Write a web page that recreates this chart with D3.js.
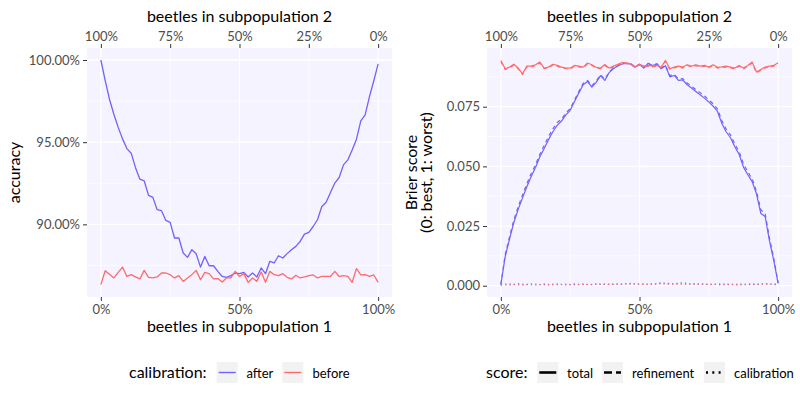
<!DOCTYPE html>
<html><head><meta charset="utf-8">
<script src="https://cdn.jsdelivr.net/npm/d3@7"></script>
<style>
body{margin:0;background:#fff}
text{font-family:Lato,"Open Sans",sans-serif}
</style>
</head><body>
<svg id="chart" width="800" height="400"></svg>
<script>
// ---------- data ----------
const nPoints = 65; // share of beetles in subpopulation 1, evenly spaced 0..1
const share1 = d3.range(nPoints).map(i => i / (nPoints - 1));

const accuracyAfter = [100.00, 98.75, 97.60, 96.70, 95.90, 95.20, 94.61, 94.33, 93.45, 92.75,
  92.65, 91.76, 91.64, 90.89, 90.83, 90.24, 90.12, 89.17, 89.17, 88.26,
  87.99, 88.46, 88.21, 87.40, 88.05, 87.48, 87.48, 87.14, 86.83, 86.77,
  86.88, 87.04, 87.00, 87.08, 86.80, 87.04, 86.80, 87.35, 87.00, 87.75,
  87.65, 88.09, 87.95, 88.22, 88.46, 88.66, 88.96, 89.41, 89.51, 89.87,
  90.28, 91.09, 91.35, 91.94, 92.51, 92.85, 93.62, 93.92, 94.53, 95.18,
  96.29, 96.66, 97.77, 98.74, 99.76];

const accuracyBefore = [86.33, 87.18, 86.96, 86.74, 87.08, 87.40, 86.83, 86.94, 86.80, 86.68,
  87.20, 86.77, 86.74, 86.80, 87.04, 87.04, 86.94, 86.74, 86.88, 86.53,
  86.74, 86.94, 87.20, 86.63, 87.08, 87.00, 86.68, 86.70, 86.49, 86.74,
  86.74, 87.14, 86.83, 87.00, 86.47, 86.74, 86.53, 87.10, 86.47, 87.14,
  86.94, 86.88, 87.00, 86.78, 86.68, 86.90, 86.74, 86.80, 86.88, 86.92,
  86.74, 86.83, 86.83, 86.83, 87.14, 86.83, 86.88, 86.83, 86.47, 87.31,
  86.92, 86.94, 86.83, 86.92, 86.47];

const brierTotalAfter = [0.0005, 0.0122, 0.0195, 0.0265, 0.0320, 0.0368, 0.0415, 0.0458, 0.0495, 0.0540,
  0.0575, 0.0612, 0.0645, 0.0672, 0.0690, 0.0716, 0.0735, 0.0772, 0.0808, 0.0842,
  0.0856, 0.0832, 0.0852, 0.0880, 0.0860, 0.0893, 0.0910, 0.0921, 0.0929, 0.0931,
  0.0928, 0.0916, 0.0927, 0.0912, 0.0932, 0.0922, 0.0929, 0.0909, 0.0922, 0.0875,
  0.0881, 0.0860, 0.0862, 0.0842, 0.0828, 0.0814, 0.0800, 0.0786, 0.0770, 0.0752,
  0.0730, 0.0680, 0.0645, 0.0620, 0.0582, 0.0550, 0.0497, 0.0465, 0.0436, 0.0385,
  0.0303, 0.0290, 0.0188, 0.0105, 0.0010];

const brierRefinementAfter = [0.0005, 0.0130, 0.0205, 0.0276, 0.0331, 0.0380, 0.0427, 0.0470, 0.0507, 0.0551,
  0.0588, 0.0625, 0.0657, 0.0684, 0.0698, 0.0724, 0.0742, 0.0778, 0.0814, 0.0848,
  0.0860, 0.0838, 0.0857, 0.0884, 0.0865, 0.0896, 0.0912, 0.0922, 0.0930, 0.0932,
  0.0929, 0.0918, 0.0928, 0.0914, 0.0932, 0.0923, 0.0930, 0.0911, 0.0923, 0.0880,
  0.0886, 0.0866, 0.0868, 0.0849, 0.0836, 0.0822, 0.0809, 0.0795, 0.0779, 0.0762,
  0.0741, 0.0692, 0.0656, 0.0632, 0.0594, 0.0562, 0.0510, 0.0477, 0.0448, 0.0396,
  0.0318, 0.0302, 0.0199, 0.0114, 0.0012];

const brierCalibrationAfter = [0.0002, 0.0004, 0.0003, 0.0005, 0.0004, 0.0003, 0.0005, 0.0004, 0.0003, 0.0004,
  0.0005, 0.0003, 0.0004, 0.0004, 0.0005, 0.0003, 0.0004, 0.0005, 0.0004, 0.0006,
  0.0005, 0.0004, 0.0006, 0.0005, 0.0007, 0.0006, 0.0005, 0.0007, 0.0006, 0.0008,
  0.0010, 0.0007, 0.0006, 0.0008, 0.0005, 0.0007, 0.0009, 0.0012, 0.0010, 0.0009,
  0.0007, 0.0010, 0.0012, 0.0009, 0.0006, 0.0008, 0.0005, 0.0007, 0.0004, 0.0006,
  0.0005, 0.0003, 0.0006, 0.0004, 0.0005, 0.0003, 0.0005, 0.0004, 0.0006, 0.0004,
  0.0007, 0.0009, 0.0007, 0.0005, 0.0003];

const brierTotalBefore = [0.0944, 0.0909, 0.0916, 0.0928, 0.0912, 0.0888, 0.0920, 0.0920, 0.0926, 0.0937,
  0.0912, 0.0916, 0.0928, 0.0923, 0.0916, 0.0912, 0.0912, 0.0923, 0.0920, 0.0916,
  0.0933, 0.0926, 0.0915, 0.0912, 0.0927, 0.0912, 0.0920, 0.0928, 0.0935, 0.0934,
  0.0930, 0.0917, 0.0928, 0.0920, 0.0923, 0.0920, 0.0923, 0.0916, 0.0944, 0.0909,
  0.0916, 0.0920, 0.0916, 0.0926, 0.0920, 0.0926, 0.0920, 0.0923, 0.0916, 0.0926,
  0.0915, 0.0917, 0.0920, 0.0916, 0.0912, 0.0923, 0.0912, 0.0923, 0.0937, 0.0895,
  0.0906, 0.0916, 0.0920, 0.0923, 0.0934];

const brierRefinementBefore = [0.0940, 0.0906, 0.0913, 0.0924, 0.0909, 0.0885, 0.0917, 0.0916, 0.0923, 0.0933,
  0.0909, 0.0913, 0.0924, 0.0920, 0.0913, 0.0909, 0.0908, 0.0920, 0.0917, 0.0913,
  0.0929, 0.0923, 0.0912, 0.0909, 0.0923, 0.0909, 0.0917, 0.0925, 0.0931, 0.0931,
  0.0926, 0.0914, 0.0925, 0.0917, 0.0919, 0.0917, 0.0920, 0.0913, 0.0940, 0.0906,
  0.0913, 0.0917, 0.0912, 0.0923, 0.0917, 0.0922, 0.0917, 0.0920, 0.0913, 0.0922,
  0.0912, 0.0914, 0.0916, 0.0913, 0.0909, 0.0920, 0.0908, 0.0920, 0.0933, 0.0892,
  0.0903, 0.0913, 0.0917, 0.0920, 0.0930];

const brierCalibrationBefore = [0.0009, 0.0007, 0.0008, 0.0006, 0.0009, 0.0007, 0.0006, 0.0008, 0.0007, 0.0005,
  0.0008, 0.0006, 0.0007, 0.0008, 0.0006, 0.0007, 0.0005, 0.0008, 0.0006, 0.0007,
  0.0005, 0.0006, 0.0008, 0.0007, 0.0005, 0.0006, 0.0008, 0.0006, 0.0007, 0.0009,
  0.0006, 0.0008, 0.0007, 0.0005, 0.0007, 0.0008, 0.0006, 0.0009, 0.0007, 0.0006,
  0.0008, 0.0006, 0.0007, 0.0005, 0.0008, 0.0006, 0.0007, 0.0008, 0.0006, 0.0005,
  0.0007, 0.0008, 0.0006, 0.0007, 0.0005, 0.0008, 0.0006, 0.0007, 0.0009, 0.0006,
  0.0008, 0.0007, 0.0006, 0.0008, 0.0007];

const calibrationLevels = ["after", "before"];
const scoreLevels = ["total", "refinement", "calibration"];
const xTicksBottom = [0, 0.5, 1];
const xTicksTop = [0, 0.25, 0.5, 0.75, 1];
const accuracyTicks = [90, 95, 100];
const accuracyMinor = [87.5, 92.5, 97.5];
const brierTicks = [0, 0.025, 0.05, 0.075];
const brierMinor = [0.0125, 0.0375, 0.0625, 0.0875];

// ---------- styling ----------
const colors = {after: "#7062FF", before: "#FF6B6B"};
const dash = {total: null, refinement: "4,3.5", calibration: "1.3,3"};
const keyDash = {total: null, refinement: "8,4", calibration: "2,4.3"};
const bg = "#F5F3FF";
const tickCol = "#333333", labCol = "#4D4D4D";
const titleSize = "16px";

const svg = d3.select("#chart");

function panel(x0, x1, y0, y1, yDomain, yTicks, yMinor, yFmt) {
  const g = svg.append("g");
  const x = d3.scaleLinear().domain([-0.05, 1.05]).range([x0, x1]);
  const y = d3.scaleLinear().domain(yDomain).range([y1, y0]);
  g.append("rect").attr("x", x0).attr("y", y0).attr("width", x1 - x0).attr("height", y1 - y0).attr("fill", bg);
  // minor grid
  yMinor.forEach(v => g.append("line").attr("x1", x0).attr("x2", x1).attr("y1", y(v)).attr("y2", y(v)).attr("stroke", "#fff").attr("stroke-width", 0.7));
  [0.25, 0.75].forEach(v => g.append("line").attr("y1", y0).attr("y2", y1).attr("x1", x(v)).attr("x2", x(v)).attr("stroke", "#fff").attr("stroke-width", 0.7));
  // major grid
  yTicks.forEach(v => g.append("line").attr("x1", x0).attr("x2", x1).attr("y1", y(v)).attr("y2", y(v)).attr("stroke", "#fff").attr("stroke-width", 1.3));
  xTicksBottom.forEach(v => g.append("line").attr("y1", y0).attr("y2", y1).attr("x1", x(v)).attr("x2", x(v)).attr("stroke", "#fff").attr("stroke-width", 1.3));

  const style = sel => {
    sel.select(".domain").remove();
    sel.selectAll(".tick line").attr("stroke", tickCol).attr("stroke-width", 1);
    sel.selectAll(".tick text").attr("fill", labCol).style("font-size", "13px").style("font-family", "Lato");
  };
  g.append("g").attr("transform", `translate(0,${y1})`)
    .call(d3.axisBottom(x).tickValues(xTicksBottom).tickFormat(d3.format(".0%")).tickSize(4).tickPadding(3.5)).call(style);
  g.append("g").attr("transform", `translate(0,${y0})`)
    .call(d3.axisTop(x).tickValues(xTicksTop).tickFormat(d => d3.format(".0%")(1 - d)).tickSize(4).tickPadding(3.5)).call(style);
  g.append("g").attr("transform", `translate(${x0},0)`)
    .call(d3.axisLeft(y).tickValues(yTicks).tickFormat(yFmt).tickSize(4).tickPadding(3)).call(style);

  const cx = (x0 + x1) / 2;
  g.append("text").attr("x", cx).attr("y", 22).attr("text-anchor", "middle").style("font-size", titleSize).attr("fill", "#000").text("beetles in subpopulation 2");
  g.append("text").attr("x", cx).attr("y", 331.5).attr("text-anchor", "middle").style("font-size", titleSize).attr("fill", "#000").text("beetles in subpopulation 1");
  return {g, x, y};
}

// ---------- left panel: accuracy ----------
const L = panel(87, 392, 48, 297, [85.58, 100.73], accuracyTicks, accuracyMinor, d => d.toFixed(2) + "%");
const accSeries = {after: accuracyAfter, before: accuracyBefore};
calibrationLevels.forEach(c => {
  const line = d3.line().x((d, i) => L.x(share1[i])).y(d => L.y(d));
  L.g.append("path").attr("d", line(accSeries[c])).attr("fill", "none")
    .attr("stroke", colors[c]).attr("stroke-width", 1.3).attr("stroke-linejoin", "round");
});
svg.append("text").attr("transform", "translate(20,172.5) rotate(-90)").attr("text-anchor", "middle")
  .style("font-size", titleSize).attr("fill", "#000").text("accuracy");

// ---------- right panel: Brier score ----------
const R = panel(487, 792, 48, 297, [-0.00473, 0.0996], brierTicks, brierMinor, d3.format(".3f"));
const brierSeries = {
  after: {total: brierTotalAfter, refinement: brierRefinementAfter, calibration: brierCalibrationAfter},
  before: {total: brierTotalBefore, refinement: brierRefinementBefore, calibration: brierCalibrationBefore}
};
calibrationLevels.forEach(c => {
  scoreLevels.forEach(s => {
    const line = d3.line().x((d, i) => R.x(share1[i])).y(d => R.y(d));
    const p = R.g.append("path").attr("d", line(brierSeries[c][s])).attr("fill", "none")
      .attr("stroke", colors[c]).attr("stroke-width", 1.2).attr("stroke-linejoin", "round");
    if (dash[s]) p.attr("stroke-dasharray", dash[s]);
  });
});
const yt = svg.append("text").attr("transform", "translate(422,172.5) rotate(-90)").attr("text-anchor", "middle")
  .style("font-size", titleSize).attr("fill", "#000");
yt.append("tspan").attr("x", 0).attr("dy", "-0.3em").text("Brier score");
yt.append("tspan").attr("x", 0).attr("dy", "0.95em").text("(0: best, 1: worst)");

// ---------- legends ----------
const legY = 372.5;
function legend(titleX, title, items) {
  const g = svg.append("g");
  g.append("text").attr("x", titleX).attr("y", legY + 5.5).style("font-size", titleSize).attr("fill", "#000").text(title);
  items.forEach(it => {
    g.append("rect").attr("x", it.kx).attr("y", legY - 10.5).attr("width", 21).attr("height", 21).attr("fill", "#F2F2F2");
    const l = g.append("line").attr("x1", it.kx + 2).attr("x2", it.kx + 19).attr("y1", legY).attr("y2", legY)
      .attr("stroke", it.color).attr("stroke-width", it.width);
    if (it.dash) l.attr("stroke-dasharray", it.dash);
    g.append("text").attr("x", it.tx).attr("y", legY + 5).style("font-size", "13px").attr("fill", "#000").text(it.label);
  });
}
legend(129, "calibration:", [
  {kx: 216.7, tx: 246.5, label: calibrationLevels[0], color: colors.after, width: 1.4},
  {kx: 282.3, tx: 312.5, label: calibrationLevels[1], color: colors.before, width: 1.4}
]);
legend(486, "score:", [
  {kx: 537.3, tx: 567, label: scoreLevels[0], color: "#000", width: 2.6, dash: keyDash.total},
  {kx: 602, tx: 632, label: scoreLevels[1], color: "#000", width: 2.6, dash: keyDash.refinement},
  {kx: 704, tx: 734, label: scoreLevels[2], color: "#000", width: 2.6, dash: keyDash.calibration}
]);
</script>
</body></html>
